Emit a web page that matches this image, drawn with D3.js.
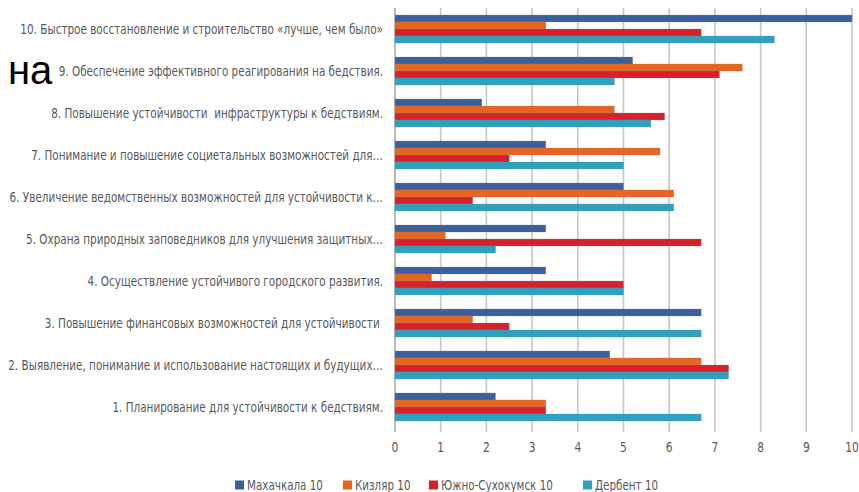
<!DOCTYPE html>
<html>
<head>
<meta charset="utf-8">
<script src="https://cdn.jsdelivr.net/npm/d3@7/dist/d3.min.js"></script>
<style>
  html, body { margin: 0; padding: 0; background: #fff; }
  svg { display: block; }
  text { font-family: "DejaVu Sans Condensed", "DejaVu Sans", sans-serif; font-stretch: condensed; fill: #595959; }
</style>
</head>
<body>
<svg id="chart" width="859" height="492"></svg>
<script>
const categories = [
  "10. Быстрое восстановление и строительство «лучше, чем было»",
  "9. Обеспечение эффективного реагирования на бедствия.",
  "8. Повышение устойчивости  инфраструктуры к бедствиям.",
  "7. Понимание и повышение социетальных возможностей для…",
  "6. Увеличение ведомственных возможностей для устойчивости к…",
  "5. Охрана природных заповедников для улучшения защитных…",
  "4. Осуществление устойчивого городского развития.",
  "3. Повышение финансовых возможностей для устойчивости ",
  "2. Выявление, понимание и использование настоящих и будущих…",
  "1. Планирование для устойчивости к бедствиям."
];
const seriesNames = ["Махачкала 10", "Кизляр 10", "Южно-Сухокумск 10", "Дербент 10"];
const makhachkala = [10, 5.2, 1.9, 3.3, 5.0, 3.3, 3.3, 6.7, 4.7, 2.2];
const kizlyar     = [3.3, 7.6, 4.8, 5.8, 6.1, 1.1, 0.8, 1.7, 6.7, 3.3];
const yuzhno      = [6.7, 7.1, 5.9, 2.5, 1.7, 6.7, 5.0, 2.5, 7.3, 3.3];
const derbent     = [8.3, 4.8, 5.6, 5.0, 6.1, 2.2, 5.0, 6.7, 7.3, 6.7];
const xTicks = [0, 1, 2, 3, 4, 5, 6, 7, 8, 9, 10];
const colors = ["#3B5F9B", "#E8641F", "#D8202B", "#2CA2BF"];

const series = [makhachkala, kizlyar, yuzhno, derbent];
const svg = d3.select("#chart");

const x = d3.scaleLinear().domain([0, 10]).range([395, 852]);
const y = d3.scaleBand().domain(categories).range([8, 428]).paddingInner(0.333).paddingOuter(0.1667);
const ySub = d3.scaleBand().domain(d3.range(4)).range([0, y.bandwidth()]);

// gridlines
svg.append("g").selectAll("line").data(xTicks).join("line")
  .attr("x1", d => x(d)).attr("x2", d => x(d))
  .attr("y1", 8).attr("y2", 432)
  .attr("stroke", d => d === 0 ? "#a8a8a8" : "#c6c6c6")
  .attr("stroke-width", 1.6);

// bars
const groups = svg.append("g").selectAll("g").data(categories).join("g")
  .attr("transform", d => `translate(0,${y(d)})`);
groups.selectAll("rect").data((d, i) => series.map((s, k) => ({k, v: s[i]}))).join("rect")
  .attr("x", x(0))
  .attr("y", d => ySub(d.k))
  .attr("width", d => x(d.v) - x(0))
  .attr("height", ySub.bandwidth())
  .attr("fill", d => colors[d.k])
  .attr("stroke", "rgba(140,140,140,0.45)")
  .attr("stroke-width", 0.6);

// category labels (horizontally condensed to mimic the narrow original face)
const labels = svg.append("g").selectAll("text").data(categories).join("text")
  .attr("x", 0).attr("y", 0)
  .attr("dy", "0.35em")
  .attr("text-anchor", "end")
  .attr("font-size", 13.5)
  .style("white-space", "pre")
  .text(d => d);
const w10 = labels.nodes()[0].getComputedTextLength();
const kLab = Math.min(1, 363 / w10);
labels.attr("transform", d => `translate(383,${y(d) + y.bandwidth() / 2}) scale(${kLab},1)`);

// x axis tick labels
svg.append("g").selectAll("text").data(xTicks).join("text")
  .attr("transform", d => `translate(${x(d)},447) scale(0.85,1)`)
  .attr("dy", "0.35em")
  .attr("text-anchor", "middle")
  .attr("font-size", 14)
  .text(d => d);

// legend
const legendX = [235, 343, 429, 583];
const leg = svg.append("g").selectAll("g").data(seriesNames).join("g")
  .attr("transform", (d, i) => `translate(${legendX[i]},485)`);
leg.append("rect").attr("x", 0).attr("y", -4.5).attr("width", 9).attr("height", 9)
  .attr("fill", (d, i) => colors[i]);
const legText = leg.append("text").attr("x", 0).attr("y", 0).attr("dy", "0.35em")
  .attr("font-size", 14).text(d => d);
const wLeg = legText.nodes()[0].getComputedTextLength();
const kLeg = Math.min(1, 76 / wLeg);
legText.attr("transform", `translate(12,0) scale(${kLeg},1)`);

// stray text
svg.append("text").attr("x", 8).attr("y", 84)
  .style("font-family", "'Liberation Sans', Arial, sans-serif")
  .style("font-stretch", "normal")
  .style("fill", "#000")
  .attr("font-size", 40).text("на");
</script>
</body>
</html>
